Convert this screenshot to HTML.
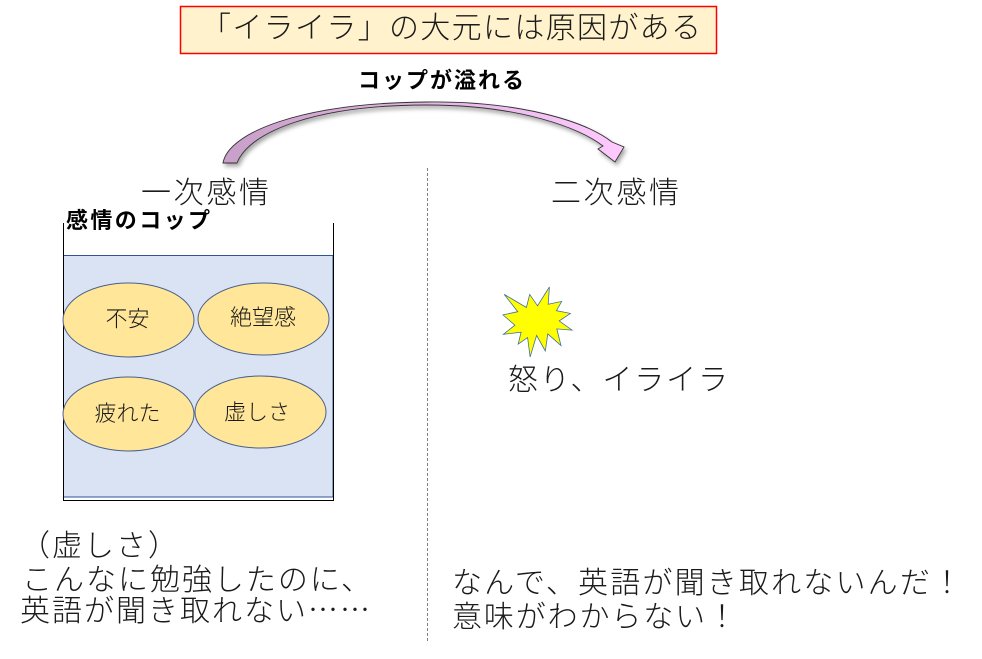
<!DOCTYPE html>
<html><head><meta charset="utf-8"><style>
html,body{margin:0;padding:0;background:#fff;}
svg{display:block;}
text{font-family:"Liberation Sans","Noto Sans CJK JP",sans-serif;fill:#1a1a1a;}
.t{font-size:30px;font-weight:300;}
.b{font-size:22px;font-weight:bold;fill:#000;}
.e{font-size:22px;font-weight:300;}
.jp{font-family:"Noto Sans CJK JP",sans-serif;}
</style></head><body>
<svg width="982" height="659" viewBox="0 0 982 659" xmlns="http://www.w3.org/2000/svg">
<defs>
<linearGradient id="ag" x1="223" y1="0" x2="624" y2="0" gradientUnits="userSpaceOnUse">
<stop offset="0" stop-color="#c79fc8"/>
<stop offset="1" stop-color="#ffcaff"/>
</linearGradient>
<filter id="sh" x="-10%" y="-30%" width="120%" height="160%">
<feDropShadow dx="2" dy="3" stdDeviation="2" flood-color="#000" flood-opacity="0.35"/>
</filter>
</defs>
<rect width="982" height="659" fill="#fff"/>

<!-- title -->
<rect x="180.5" y="6.5" width="536" height="47" fill="#fff2cc" stroke="#ff0000" stroke-width="1.5"/>
<text class="t" x="201" y="38" textLength="500" lengthAdjust="spacing">「イライラ」の大元には原因がある</text>

<!-- label over arrow -->
<text class="b" x="358" y="88" textLength="166" lengthAdjust="spacing">コップが溢れる</text>

<!-- curved arrow -->
<path filter="url(#sh)" d="M223,163 C228,133 300,103 427,102 C520,101 585,121 612,142 L624,147 L615,162 L598,149 L603,146 C580,128 520,105 427,105 C320,105 250,130 237,163 Z" fill="url(#ag)" stroke="#333" stroke-width="0.9" stroke-linejoin="miter"/>

<!-- divider -->
<line x1="427.5" y1="168" x2="427.5" y2="642" stroke="#808080" stroke-width="1" stroke-dasharray="3,2"/>

<!-- headings -->
<text class="t" x="141" y="203" textLength="128" lengthAdjust="spacing">一次感情</text>
<text class="t" x="551" y="203" textLength="128" lengthAdjust="spacing">二次感情</text>

<!-- cup -->
<text class="b" x="66" y="228" textLength="144" lengthAdjust="spacing">感情のコップ</text>
<rect x="63.5" y="255.5" width="269.5" height="241.5" fill="#dae3f3" stroke="#2f5597" stroke-width="1"/>
<polyline points="63.5,223 63.5,500.5 333.5,500.5 333.5,223" fill="none" stroke="#000" stroke-width="1"/>

<ellipse cx="128.5" cy="320" rx="65.5" ry="37" fill="#ffe699" stroke="#4a5f8a" stroke-width="1"/>
<ellipse cx="263.5" cy="319" rx="65.5" ry="36" fill="#ffe699" stroke="#4a5f8a" stroke-width="1"/>
<ellipse cx="128.5" cy="414" rx="65.5" ry="37" fill="#ffe699" stroke="#4a5f8a" stroke-width="1"/>
<ellipse cx="260.5" cy="412" rx="65.5" ry="36" fill="#ffe699" stroke="#4a5f8a" stroke-width="1"/>
<text class="e" x="127.5" y="326.5" text-anchor="middle">不安</text>
<text class="e" x="263" y="325" text-anchor="middle">絶望感</text>
<text class="e" x="127.5" y="421" text-anchor="middle">疲れた</text>
<text class="e" x="257" y="420" text-anchor="middle">虚しさ</text>

<!-- explosion -->
<polygon points="537.5,305.8 549.4,287 548.2,304.3 561.7,301.4 556.4,310.7 570.4,313.4 559.2,320.9 572,330.1 556.8,328.9 561,345.6 547.8,333.9 545.3,351 536.6,335.4 530.1,357 527.6,337.6 518.2,344.1 521.1,332.2 503.4,334.3 514.9,325.2 503,314.9 517.8,311.7 504.2,294.4 526.4,307.5 529.7,294.4" fill="#ffff00" stroke="#41719c" stroke-width="0.8" stroke-linejoin="miter"/>
<text class="t" x="508" y="390" textLength="220" lengthAdjust="spacing">怒り、イライラ</text>

<!-- bottom left -->
<text class="t" x="20" y="556" textLength="158" lengthAdjust="spacing">（虚しさ）</text>
<text class="t" x="22" y="590" textLength="349" lengthAdjust="spacing">こんなに勉強したのに、</text>
<text class="t" x="20" y="621" textLength="350" lengthAdjust="spacing">英語が聞き取れない<tspan class="jp">……</tspan></text>

<!-- bottom right -->
<text class="t" x="452" y="593" textLength="510" lengthAdjust="spacing">なんで、英語が聞き取れないんだ！</text>
<text class="t" x="452" y="627" textLength="285" lengthAdjust="spacing">意味がわからない！</text>
</svg>
</body></html>
